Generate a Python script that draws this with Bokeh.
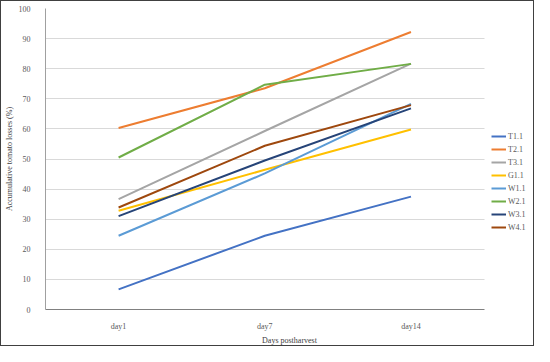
from bokeh.plotting import figure
from bokeh.models import Legend, LegendItem, SingleIntervalTicker, FixedTicker, Range1d
from bokeh.embed import file_html
from bokeh.resources import INLINE

days = ["day1", "day7", "day14"]
series_names = ["T1.1", "T2.1", "T3.1", "G1.1", "W1.1", "W2.1", "W3.1", "W4.1"]
t1 = [6.7, 24.5, 37.5]
t2 = [60.3, 73.5, 92.2]
t3 = [36.7, 59.3, 81.7]
g1 = [32.8, 46.4, 59.8]
w1 = [24.5, 45.2, 68.3]
w2 = [50.5, 74.7, 81.6]
w3 = [31.0, 49.5, 66.8]
w4 = [33.9, 54.4, 67.9]
series_values = [t1, t2, t3, g1, w1, w2, w3, w4]
colors = ["#4472C4", "#ED7D31", "#A5A5A5", "#FFC000", "#5B9BD5", "#70AD47", "#264478", "#9E480E"]

FONT = "Liberation Serif"
xpos = list(range(len(days)))
x_lo, x_hi = -0.5, len(days) - 0.5

p = figure(width=534, height=346, x_range=Range1d(x_lo, 2.838),
           y_range=Range1d(0, 100), output_backend="svg", toolbar_location=None,
           min_border_left=39, min_border_right=2, min_border_top=7, min_border_bottom=30,
           styles={"border": "1px solid #404040", "box-sizing": "border-box"})

items = []
for name, vals, c in zip(series_names, series_values, colors):
    r = p.line(xpos, vals, line_color=c, line_width=2)
    items.append(LegendItem(label=name, renderers=[r]))

p.xaxis.ticker = FixedTicker(ticks=xpos)
p.xaxis.major_label_overrides = {i: d for i, d in zip(xpos, days)}
p.xaxis.bounds = (x_lo, x_hi)
p.yaxis.ticker = SingleIntervalTicker(interval=10)
p.xgrid.grid_line_color = None
p.ygrid.grid_line_color = "#D9D9D9"
p.ygrid.grid_line_width = 1
p.ygrid.cross_bounds = (x_lo, x_hi)
p.outline_line_color = None

for ax in (p.xaxis[0], p.yaxis[0]):
    ax.major_tick_line_color = None
    ax.minor_tick_line_color = None
    ax.major_label_text_font = FONT
    ax.major_label_text_font_size = "8px"
    ax.major_label_text_color = "#595959"
    ax.axis_label_text_font = FONT
    ax.axis_label_text_font_size = "8px"
    ax.axis_label_text_font_style = "normal"
    ax.axis_label_text_color = "#404040"

p.yaxis.axis_line_color = "#A0A0A0"
p.xaxis.axis_line_color = "#808080"
p.yaxis.major_label_standoff = 9
p.xaxis.major_label_standoff = 6
p.yaxis.axis_label = "Accumulative tomato losses (%)"
p.xaxis.axis_label = "Days postharvest"
p.yaxis.axis_label_standoff = 2
p.xaxis.axis_label_standoff = 2

legend = Legend(items=items, location=(446, 77), label_text_font=FONT,
                label_text_font_size="8px", label_text_color="#595959",
                glyph_width=15, glyph_height=10, label_height=10, spacing=3,
                padding=0, margin=0, label_standoff=2,
                background_fill_alpha=0, border_line_color=None)
p.add_layout(legend, "center")

open("out.html", "w").write(file_html(p, INLINE))
